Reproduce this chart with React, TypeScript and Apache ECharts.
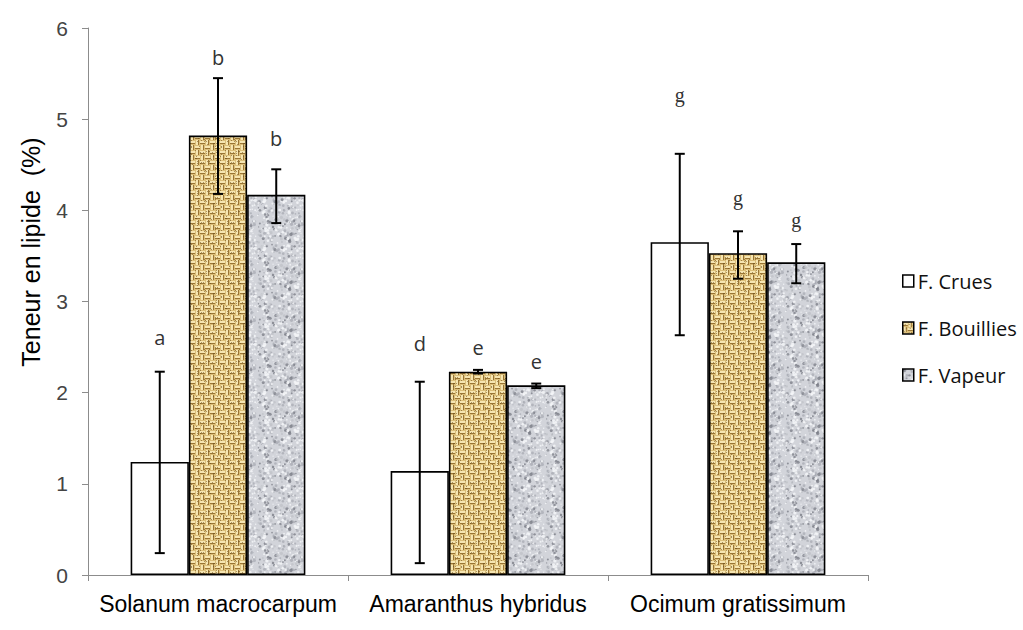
import React, { useEffect, useRef } from "react";
import * as echarts from "echarts";

const categories = ["Solanum macrocarpum", "Amaranthus hybridus", "Ocimum gratissimum"];
const seriesNames = ["F. Crues", "F. Bouillies", "F. Vapeur"];

const crues = [1.24, 1.14, 3.65];
const bouillies = [4.82, 2.23, 3.53];
const vapeur = [4.17, 2.08, 3.43];

const cruesLow = [0.24, 0.13, 2.63];
const cruesHigh = [2.23, 2.12, 4.62];
const bouilliesLow = [4.18, 2.21, 3.25];
const bouilliesHigh = [5.45, 2.25, 3.77];
const vapeurLow = [3.86, 2.05, 3.2];
const vapeurHigh = [4.45, 2.1, 3.63];

const cruesLetters = ["a", "d", "g"];
const bouilliesLetters = ["b", "e", "g"];
const vapeurLetters = ["b", "e", "g"];
const cruesLetterY = [2.61, 2.54, 5.26];
const bouilliesLetterY = [5.68, 2.5, 4.13];
const vapeurLetterY = [4.79, 2.34, 3.89];

const yTicks = [0, 1, 2, 3, 4, 5, 6];
const yTitle = "Teneur en lipide  (%)";

const BAR_FRAC = 0.224;

function hash(x: number, y: number, s: number) {
  const v = Math.sin(x * 12.9898 + y * 78.233 + s * 37.719) * 43758.5453;
  return v - Math.floor(v);
}

function makeBurlap(): HTMLCanvasElement {
  const c = document.createElement("canvas");
  const S = 30;
  c.width = S;
  c.height = S;
  const g = c.getContext("2d")!;
  g.fillStyle = "#dcbf79";
  g.fillRect(0, 0, S, S);
  const cell = 5;
  for (let i = 0; i < S / cell; i++) {
    for (let j = 0; j < S / cell; j++) {
      const x = i * cell;
      const y = j * cell;
      if ((i + j) % 2 === 0) {
        g.fillStyle = "#f6e6b2";
        g.fillRect(x, y + 1, cell, 2);
        g.fillStyle = "#9a7534";
        g.fillRect(x, y + 3, cell, 1);
      } else {
        g.fillStyle = "#f6e6b2";
        g.fillRect(x + 1, y, 2, cell);
        g.fillStyle = "#9a7534";
        g.fillRect(x + 3, y, 1, cell);
      }
    }
  }
  for (let x = 0; x < S; x++) {
    for (let y = 0; y < S; y++) {
      const h = hash(x, y, 1);
      if (h < 0.06) {
        g.fillStyle = "rgba(105,75,25,0.55)";
        g.fillRect(x, y, 1, 1);
      }
    }
  }
  return c;
}

function makeGranite(): HTMLCanvasElement {
  const c = document.createElement("canvas");
  const S = 48;
  c.width = S;
  c.height = S;
  const g = c.getContext("2d")!;
  g.fillStyle = "#d2d4da";
  g.fillRect(0, 0, S, S);
  const blobs = 260;
  for (let k = 0; k < blobs; k++) {
    const bx = hash(k, 1, 3) * S;
    const by = hash(k, 2, 5) * S;
    const t = hash(k, 3, 7);
    const r = 0.5 + hash(k, 4, 9) * 1.2;
    let col = "rgba(245,246,248,0.85)";
    if (t < 0.18) col = "rgba(120,123,132,0.75)";
    else if (t < 0.45) col = "rgba(165,168,176,0.7)";
    else if (t < 0.62) col = "rgba(190,192,198,0.7)";
    g.fillStyle = col;
    for (const ox of [-S, 0, S]) {
      for (const oy of [-S, 0, S]) {
        g.beginPath();
        g.arc(bx + ox, by + oy, r, 0, Math.PI * 2);
        g.fill();
      }
    }
  }
  return c;
}

export default function App() {
  const ref = useRef<HTMLDivElement>(null);

  useEffect(() => {
    if (!ref.current) return;
    document.body.style.margin = "0";
    const chart = echarts.init(ref.current, undefined, { renderer: "svg" });
    const burlap = makeBurlap();
    const granite = makeGranite();

    const fills: any[] = [
      "#ffffff",
      { image: burlap, repeat: "repeat", imageWidth: burlap.width, imageHeight: burlap.height },
      { image: granite, repeat: "repeat", imageWidth: granite.width, imageHeight: granite.height },
    ];
    const values = [crues, bouillies, vapeur];
    const lows = [cruesLow, bouilliesLow, vapeurLow];
    const highs = [cruesHigh, bouilliesHigh, vapeurHigh];
    const letters = [cruesLetters, bouilliesLetters, vapeurLetters];
    const letterY = [cruesLetterY, bouilliesLetterY, vapeurLetterY];

    const bars = seriesNames.map((name, i) => ({
      name,
      type: "bar",
      data: values[i],
      barWidth: BAR_FRAC * 100 + "%",
      barGap: "0%",
      itemStyle: { color: fills[i], borderColor: "#000", borderWidth: 1.6 },
      z: 2,
    }));

    const errs = seriesNames.map((name, i) => ({
      name: name + " err",
      type: "custom",
      z: 5,
      data: categories.map((_, k) => [k, lows[i][k], highs[i][k], letterY[i][k]]),
      encode: { x: 0, y: [1, 2, 3] },
      renderItem: (params: any, api: any) => {
        const ci = api.value(0);
        const lo = api.coord([ci, api.value(1)]);
        const hi = api.coord([ci, api.value(2)]);
        const ly = api.coord([ci, api.value(3)]);
        const band = api.size([1, 0])[0];
        const x = lo[0] + (i - 1) * band * BAR_FRAC;
        const cap = 5;
        const st = { stroke: "#000", lineWidth: 2 };
        const letter = letters[i][params.dataIndex];
        return {
          type: "group",
          children: [
            { type: "line", shape: { x1: x, y1: lo[1], x2: x, y2: hi[1] }, style: st },
            { type: "line", shape: { x1: x - cap, y1: lo[1], x2: x + cap, y2: lo[1] }, style: st },
            { type: "line", shape: { x1: x - cap, y1: hi[1], x2: x + cap, y2: hi[1] }, style: st },
            {
              type: "text",
              x,
              y: ly[1],
              style: {
                text: letter,
                fill: "#333",
                font:
                  letter === "g"
                    ? "20px 'Liberation Serif'"
                    : "20px 'Open Sans'",
                textAlign: "center",
                textVerticalAlign: "middle",
              },
            },
          ],
        };
      },
    }));

    chart.setOption({
      animation: false,
      backgroundColor: "#ffffff",
      grid: { left: 88, right: 155, top: 28, bottom: 55 },
      legend: {
        data: seriesNames,
        orient: "vertical",
        left: 902,
        top: 271,
        padding: 0,
        itemWidth: 11,
        itemHeight: 12,
        itemGap: 27,
        icon: "rect",
        selectedMode: false,
        itemStyle: { borderColor: "#000", borderWidth: 1.5 },
        textStyle: {
          fontFamily: "'Open Sans'",
          fontSize: 20,
          color: "#111",
          padding: [0, 0, 0, -1],
          lineHeight: 20,
        },
      },
      graphic: [
        {
          type: "text",
          x: 31,
          y: 252,
          rotation: Math.PI / 2,
          style: {
            text: yTitle,
            font: "25px 'Liberation Sans'",
            fill: "#000",
            textAlign: "center",
            textVerticalAlign: "middle",
          },
        },
      ],
      xAxis: {
        type: "category",
        data: categories,
        axisLine: { lineStyle: { color: "#8c8c8c", width: 1 } },
        axisTick: { show: true, length: 6, lineStyle: { color: "#8c8c8c" } },
        axisLabel: {
          color: "#000",
          fontFamily: "'Liberation Sans'",
          fontSize: 23,
          margin: 17,
          interval: 0,
        },
      },
      yAxis: {
        type: "value",
        min: yTicks[0],
        max: yTicks[yTicks.length - 1],
        interval: 1,
        splitLine: { show: false },
        axisLine: { show: true, lineStyle: { color: "#8c8c8c", width: 1 } },
        axisTick: { show: true, length: 6, lineStyle: { color: "#8c8c8c" } },
        axisLabel: {
          color: "#444",
          fontFamily: "'Liberation Sans'",
          fontSize: 21,
          margin: 20,
        },
      },
      series: [...bars, ...errs],
    });

    return () => chart.dispose();
  }, []);

  return (
    <div
      ref={ref}
      style={{ position: "absolute", left: 0, top: 0, width: 1023, height: 630 }}
    />
  );
}
